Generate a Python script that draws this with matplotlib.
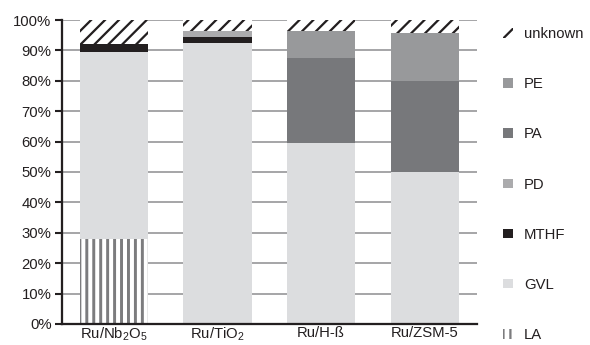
import matplotlib
matplotlib.use("Agg")
import matplotlib.pyplot as plt
import numpy as np

plt.rcParams['font.family'] = ['Liberation Sans', 'DejaVu Sans']
plt.rcParams['mathtext.fontset'] = 'custom'
plt.rcParams['mathtext.rm'] = 'Liberation Sans'
plt.rcParams['mathtext.default'] = 'regular'

catalysts = [r'Ru/Nb$_2$O$_5$', r'Ru/TiO$_2$', 'Ru/H-ß', 'Ru/ZSM-5']
products = ['LA', 'GVL', 'MTHF', 'PD', 'PA', 'PE', 'unknown']

# product distribution (%) per catalyst
la = [28.0, 0.0, 0.0, 0.0]
gvl = [61.5, 92.3, 59.5, 50.0]
mthf = [2.5, 2.2, 0.0, 0.0]
pd_ = [0.0, 2.0, 0.0, 0.0]
pa = [0.0, 0.0, 27.9, 29.8]
pe = [0.0, 0.0, 9.1, 16.0]
unknown = [8.0, 3.5, 3.5, 4.2]

series = [la, gvl, mthf, pd_, pa, pe, unknown]

styles = {
    'LA': dict(color='white', edgecolor='#7c7c7e', hatch='|||', hlw=1.7),
    'GVL': dict(color='#dcdddf'),
    'MTHF': dict(color='#231f20'),
    'PD': dict(color='#ababad'),
    'PA': dict(color='#77787b'),
    'PE': dict(color='#98999b'),
    'unknown': dict(color='white', edgecolor='#231f20', hatch='///', hlw=1.3),
}

fig = plt.figure(figsize=(590 / 125, 345 / 125), dpi=125)
ax = fig.add_axes([0.105, 0.061, 0.703, 0.881])

x = np.arange(len(catalysts))
bottom = np.zeros(len(catalysts))
handles = []
for name, vals in zip(products, series):
    st = styles[name]
    vals = np.array(vals)
    if 'hatch' in st:
        plt.rcParams['hatch.linewidth'] = st['hlw']
        b = ax.bar(x, vals, 0.66, bottom=bottom, color=st['color'],
                   edgecolor=st['edgecolor'], hatch=st['hatch'], linewidth=0,
                   label=name, zorder=2)
    else:
        b = ax.bar(x, vals, 0.66, bottom=bottom, color=st['color'],
                   linewidth=0, label=name, zorder=2)
    handles.append(b)
    bottom += vals

ax.set_xlim(-0.5, len(catalysts) - 0.5)
ax.set_ylim(0, 100)
ax.set_yticks(np.arange(0, 101, 10))
ax.set_yticklabels([f'{v}%' for v in range(0, 101, 10)])
ax.set_xticks(x)
ax.set_xticklabels(catalysts)

ax.yaxis.grid(True, color='#a3a3a5', linewidth=1.1, zorder=0)
ax.set_axisbelow(True)
for s in ['top', 'right']:
    ax.spines[s].set_visible(False)
ax.spines['left'].set_color('#231f20')
ax.spines['left'].set_linewidth(1.3)
ax.spines['bottom'].set_color('#231f20')
ax.spines['bottom'].set_linewidth(1.3)
ax.spines['bottom'].set_zorder(3)
ax.tick_params(axis='y', direction='out', length=4, width=1.2, color='#231f20',
               labelsize=8.6, labelcolor='#231f20', pad=2)
ax.tick_params(axis='x', length=0, labelsize=8.6, labelcolor='#231f20', pad=1)

leg = ax.legend(handles[::-1], products[::-1], loc='upper left',
                bbox_to_anchor=(1.05, 0.996), frameon=False, fontsize=8.6,
                handlelength=0.62, handleheight=0.62, handletextpad=0.75,
                labelspacing=2.42, borderaxespad=0)
for t in leg.get_texts():
    t.set_color('#231f20')

fig.savefig('out.png', dpi=125)
